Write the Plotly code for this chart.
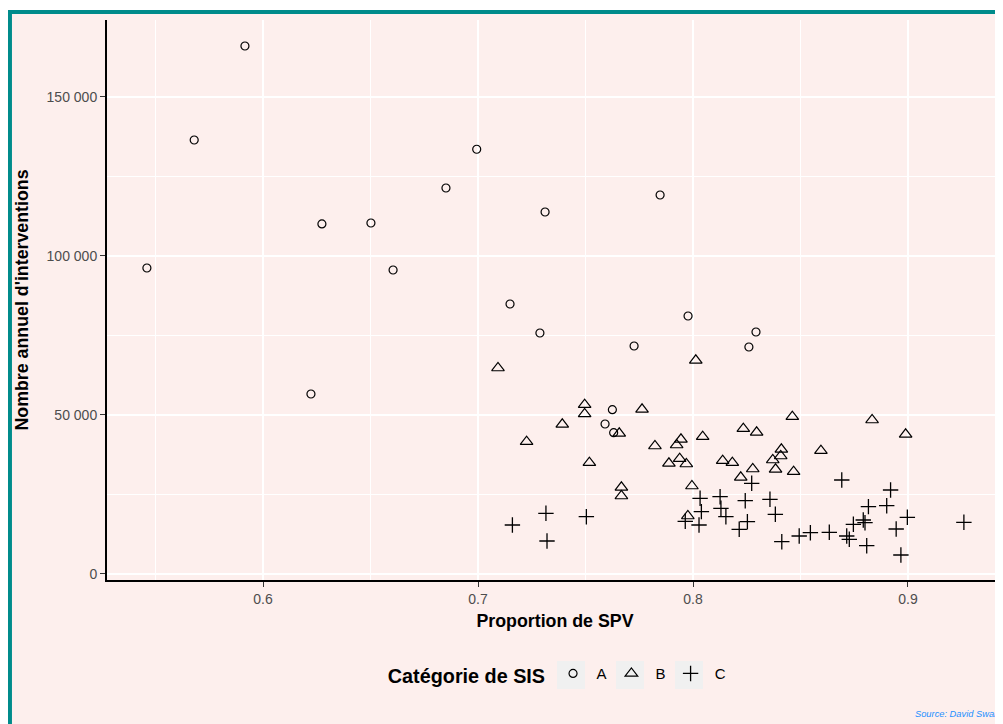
import plotly.graph_objects as go

# Catégorie A
prop_a = [0.546, 0.568, 0.5916, 0.6223, 0.6274, 0.6502, 0.6605, 0.6851, 0.6994, 0.7149,
          0.7288, 0.7312, 0.7591, 0.7625, 0.7631, 0.7726, 0.7847, 0.7977, 0.826, 0.8293]
inter_a = [96230, 136480, 166040, 56600, 110070, 110380, 95600, 121380, 133560, 84900,
           75790, 113840, 47170, 51670, 44440, 71700, 119180, 81130, 71380, 76100]

# Catégorie B
prop_b = [0.7093, 0.8013, 0.7496, 0.7496, 0.7392, 0.7226, 0.7763, 0.7657, 0.7518, 0.7823,
          0.7944, 0.7924, 0.8045, 0.7938, 0.7888, 0.7969, 0.8234, 0.8138, 0.8183, 0.8222,
          0.7667, 0.7667, 0.7995, 0.7976, 0.8296, 0.8462, 0.8833, 0.8989, 0.8411, 0.8408,
          0.8371, 0.8595, 0.8278, 0.8384, 0.8468]
inter_b = [64780, 67200, 53240, 50320, 47070, 41610, 51790, 44240, 35010, 40250,
           42350, 40570, 43190, 36270, 34810, 34590, 45700, 35640, 35000, 30410,
           27260, 24530, 27670, 18240, 44560, 49470, 48430, 43930, 39210, 37110,
           35850, 38780, 33020, 32920, 32180]

# Catégorie C
prop_c = [0.716, 0.7316, 0.7321, 0.7504, 0.7964, 0.8028, 0.8033, 0.8039, 0.8126, 0.813,
          0.8153, 0.8215, 0.8243, 0.8253, 0.8273, 0.8692, 0.8919, 0.8358, 0.8816, 0.8901,
          0.8383, 0.8997, 0.926, 0.8746, 0.8792, 0.88, 0.8945, 0.8413, 0.8494, 0.8546,
          0.8634, 0.8715, 0.8727, 0.8808, 0.8967]
inter_c = [15410, 19080, 10380, 18020, 16570, 15410, 23800, 19600, 24310, 20660,
           18020, 14060, 23050, 16450, 28520, 29560, 26410, 23480, 21170, 21480,
           18770, 17830, 16260, 15630, 16980, 16130, 14150, 10160, 11950, 12990,
           13110, 11950, 10910, 8900, 5975]

y_ticks = [0, 50000, 100000, 150000]
y_labels = ["0", "50 000", "100 000", "150 000"]

FOND = "#fdefed"
POLICE = "Liberation Sans, Arial, sans-serif"

fig = go.Figure()
fig.add_trace(go.Scatter(x=prop_a, y=inter_a, mode="markers", name=" A",
                         marker=dict(symbol="circle-open", size=8, color="black",
                                     line=dict(width=1.2, color="black"))))
fig.add_trace(go.Scatter(x=prop_b, y=inter_b, mode="markers", name=" B",
                         marker=dict(symbol="triangle-up-open", size=11, color="black",
                                     line=dict(width=1.2, color="black"))))
fig.add_trace(go.Scatter(x=prop_c, y=inter_c, mode="markers", name=" C",
                         marker=dict(symbol="cross-thin-open", size=11, color="black",
                                     line=dict(width=1.3, color="black"))))

# cadre + fond rose, cases grises de la légende
# (coordonnées "paper" : zone de tracé = 896 x 560 px, coin bas-gauche en (107, 580) dans la page)
shapes = [dict(type="rect", xref="paper", yref="paper", layer="below",
               x0=-0.1083, x1=1.01, y0=-0.28, y1=1.0143,
               fillcolor=FOND, line=dict(color="#008b8b", width=4))]
for x0 in [557, 616, 675]:
    shapes.append(dict(type="rect", xref="paper", yref="paper", layer="above",
                       x0=(x0 - 107) / 896, x1=(x0 + 28 - 107) / 896,
                       y0=(580 - 689) / 560, y1=(580 - 661) / 560,
                       fillcolor="#f0f0f0", line=dict(width=0)))

fig.update_layout(
    width=995, height=716,
    margin=dict(l=99, r=0, t=12, b=144),
    paper_bgcolor="white",
    plot_bgcolor=FOND,
    font=dict(family=POLICE, color="black"),
    shapes=shapes,
    showlegend=True,
    legend=dict(orientation="h", x=0.3112, xanchor="left", y=-0.17, yanchor="middle",
                bgcolor="rgba(0,0,0,0)",
                title=dict(text="<b>Catégorie de SIS</b>", font=dict(size=19.8)),
                font=dict(size=15)),
    annotations=[dict(text="<i>Source: David Swar</i>", xref="paper", yref="paper",
                      x=(913 - 107) / 896, y=(580 - 714) / 560, xanchor="left",
                      yanchor="middle", showarrow=False,
                      font=dict(size=9.3, color="#1e90ff"))],
)

fig.update_xaxes(
    range=[0.52744, 0.94419], tickvals=[0.6, 0.7, 0.8, 0.9], ticktext=["0.6", "0.7", "0.8", "0.9"],
    showline=True, linecolor="black", linewidth=2, ticks="outside", ticklen=5,
    tickcolor="#333333", tickfont=dict(size=14, color="#4d4d4d"),
    showgrid=True, gridcolor="white", gridwidth=1.5, zeroline=False,
    minor=dict(tickvals=[0.55, 0.65, 0.75, 0.85], showgrid=True, gridcolor="white", gridwidth=0.7),
    title=dict(text="<b>Proportion de SPV</b>", font=dict(size=17.8), standoff=9),
)
fig.update_yaxes(
    range=[-1890, 174210], tickvals=y_ticks, ticktext=y_labels,
    showline=True, linecolor="black", linewidth=2, ticks="outside", ticklen=5,
    tickcolor="#333333", tickfont=dict(size=14, color="#4d4d4d"),
    showgrid=True, gridcolor="white", gridwidth=1.5, zeroline=False,
    minor=dict(tickvals=[25000, 75000, 125000], showgrid=True, gridcolor="white", gridwidth=0.7),
    title=dict(text="<b>Nombre annuel d'interventions</b>", font=dict(size=17.8), standoff=13),
)

fig.write_html("out.html")
